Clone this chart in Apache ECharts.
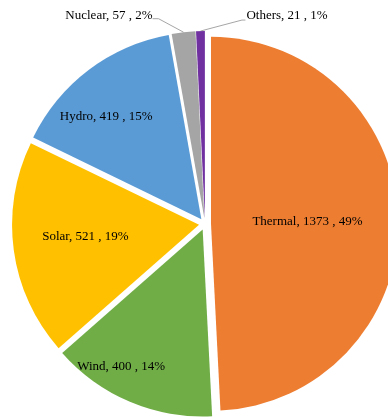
<!DOCTYPE html>
<html>
<head>
<meta charset="utf-8">
<script src="https://cdn.jsdelivr.net/npm/echarts@6/dist/echarts.min.js"></script>
<style>
  html, body { margin: 0; padding: 0; background: #fff; }
  #chart { width: 388px; height: 420px; }
</style>
</head>
<body>
<div id="chart"></div>
<script>
// Installed capacity by source
const sources = ['Thermal', 'Wind', 'Solar', 'Hydro', 'Nuclear', 'Others'];
const capacity = [1373, 400, 521, 419, 57, 21];

// Styling
const sliceColors = ['#ED7D31', '#70AD47', '#FFC000', '#5B9BD5', '#A5A5A5', '#7030A0'];
const outsideLabels = ['Nuclear', 'Others'];
// shift of inside labels from their default spot [dx, dy]
const insideNudge = { Thermal: [0, 0], Wind: [-44, 48], Solar: [-18, -1], Hydro: [-37, -26] };
// outside labels, relative to the leader line's anchor on the slice rim:
// side of the text, text edge x, text middle y, elbow point, line end point
const outsidePlacement = {
  Nuclear: { side: 'left',  edge: -31, mid: -16.5, elbow: [-25, -13.5], end: [-31, -13.5] },
  Others:  { side: 'right', edge: 46,  mid: -15,   elbow: [41.5, -11],  end: [45, -11] }
};

const chart = echarts.init(document.getElementById('chart'), null, { renderer: 'canvas' });

const data = sources.map((name, i) => {
  const item = {
    name: name,
    value: capacity[i],
    selected: true,
    itemStyle: { color: sliceColors[i] }
  };
  if (outsideLabels.indexOf(name) >= 0) {
    item.label = { position: 'outside' };
    item.labelLine = { show: true };
  }
  return item;
});

chart.setOption({
  animation: false,
  backgroundColor: '#ffffff',
  series: [{
    type: 'pie',
    center: [205, 224],
    radius: 187,
    startAngle: 90,
    clockwise: true,
    selectedMode: 'multiple',
    selectedOffset: 6,
    avoidLabelOverlap: false,
    emphasis: { disabled: true },
    label: {
      position: 'inside',
      color: '#000',
      fontFamily: '"Liberation Serif", "Times New Roman", serif',
      fontSize: 13,
      formatter: p => p.name + ', ' + p.value + ' , ' + Math.round(p.percent) + '%'
    },
    labelLine: {
      show: false,
      length: 10,
      length2: 10,
      lineStyle: { color: '#A6A6A6', width: 1 }
    },
    labelLayout: function (params) {
      const name = sources[params.dataIndex];
      const rect = params.labelRect;
      if (outsidePlacement[name]) {
        const pl = outsidePlacement[name];
        const p0 = params.labelLinePoints[0];
        const targetX = pl.side === 'left' ? p0[0] + pl.edge - rect.width : p0[0] + pl.edge;
        const targetY = p0[1] + pl.mid - rect.height / 2;
        return {
          dx: targetX - rect.x,
          dy: targetY - rect.y,
          labelLinePoints: [
            [p0[0], p0[1]],
            [p0[0] + pl.elbow[0], p0[1] + pl.elbow[1]],
            [p0[0] + pl.end[0], p0[1] + pl.end[1]]
          ]
        };
      }
      const n = insideNudge[name] || [0, 0];
      return { dx: n[0], dy: n[1] };
    },
    data: data
  }]
});
</script>
</body>
</html>
